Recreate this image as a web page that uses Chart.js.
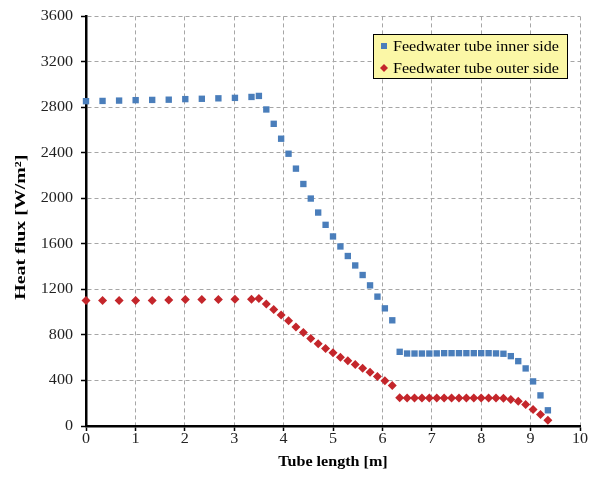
<!DOCTYPE html>
<html>
<head>
<meta charset="utf-8">
<script src="https://cdn.jsdelivr.net/npm/chart.js@4.4.1/dist/chart.umd.min.js"></script>
<style>
  html, body { margin: 0; padding: 0; background: #fff; }
  #wrap { width: 598px; height: 478px; }
</style>
</head>
<body>
<div id="wrap"><canvas id="grafico" width="598" height="478"></canvas></div>
<script>
// tube length [m]
var tubeLength = [0, 0.335, 0.67, 1.005, 1.34, 1.675, 2.01, 2.345, 2.68, 3.015, 3.35,
  3.5, 3.65, 3.8, 3.95, 4.1, 4.25, 4.4, 4.55, 4.7, 4.85, 5.0, 5.15, 5.3, 5.45, 5.6, 5.75, 5.9, 6.05, 6.2,
  6.35, 6.5, 6.65, 6.8, 6.95, 7.1, 7.25, 7.4, 7.55, 7.7, 7.85, 8.0, 8.15, 8.3,
  8.45, 8.6, 8.75, 8.9, 9.05, 9.2, 9.35]

// heat flux [W/m2]
var innerSide = [2855, 2857, 2860, 2864, 2866, 2868, 2873, 2876, 2880, 2884, 2892,
  2901, 2782, 2656, 2525, 2393, 2262, 2127, 1999, 1876, 1768, 1666, 1578, 1494, 1411, 1327, 1236, 1137, 1034, 929,
  652, 637, 637, 637, 637, 638, 640, 640, 640, 640, 640, 640, 640, 638,
  635, 614, 570, 506, 392, 269, 138]

var outerSide = [1102, 1102, 1102, 1104, 1104, 1108, 1111, 1111, 1111, 1113, 1115,
  1120, 1073, 1023, 976, 924, 871, 821, 769, 722, 681, 643, 605, 573, 541, 508, 473, 436, 398, 357,
  249, 245, 245, 245, 245, 245, 245, 245, 245, 245, 245, 245, 245, 245,
  243, 234, 217, 190, 146, 100, 50]

var seriesNames = ['Feedwater tube inner side', 'Feedwater tube outer side']
var xTicks = [0, 1, 2, 3, 4, 5, 6, 7, 8, 9, 10]
var yTicks = [0, 400, 800, 1200, 1600, 2000, 2400, 2800, 3200, 3600]

var fonte = 'Liberation Serif'

function pontos(valores) {
  return tubeLength.map(function(x, i) { return { x: x, y: valores[i] } })
}

// the original picture has its text drawn wider along the writing direction
var esticarTexto = {
  id: 'esticarTexto',
  beforeDraw: function(chart) {
    var c = chart.ctx
    if (c._esticado) return
    var original = c.fillText
    c.fillText = function(text, x, y) {
      var m = this.getTransform()
      this.save()
      if (Math.abs(m.b) > 0.5) {
        // rotated axis title
        this.translate(x - 6, y)
        this.scale(1.42, 1)
      } else {
        this.translate(x, y)
        this.scale(1.15, 1)
      }
      original.call(this, text, 0, 0)
      this.restore()
    }
    c._esticado = true
  }
}

// legend drawn as a yellow box inside the plot
var legendaBox = {
  id: 'legendaBox',
  afterDraw: function(chart) {
    var ctx = chart.ctx
    var area = chart.chartArea
    var w = 194, h = 44
    var x = Math.round(area.right) - 207
    var y = Math.round(area.top) + 18
    ctx.save()
    ctx.fillStyle = '#fbf7a6'
    ctx.fillRect(x, y, w, h)
    ctx.strokeStyle = '#000'
    ctx.lineWidth = 1
    ctx.strokeRect(x + 0.5, y + 0.5, w, h)
    ctx.font = '14px "' + fonte + '"'
    ctx.textBaseline = 'middle'
    ctx.textAlign = 'left'
    chart.data.datasets.forEach(function(ds, i) {
      var cy = y + 12 + i * 22
      var mx = x + 11
      ctx.fillStyle = ds.backgroundColor
      if (ds.pointStyle === 'rect') {
        ctx.fillRect(mx - 3, cy - 3, 6, 6)
      } else {
        ctx.beginPath()
        ctx.moveTo(mx, cy - 4)
        ctx.lineTo(mx + 4, cy)
        ctx.lineTo(mx, cy + 4)
        ctx.lineTo(mx - 4, cy)
        ctx.closePath()
        ctx.fill()
      }
      ctx.fillStyle = '#000'
      ctx.fillText(ds.label, x + 20, cy + 1)
    })
    ctx.restore()
  }
}

var ctx = document.getElementById('grafico').getContext('2d')

var myChart = new Chart(ctx, {
  type: 'scatter',
  data: {
    datasets: [
      {
        label: seriesNames[0],
        data: pontos(innerSide),
        pointStyle: 'rect',
        pointRadius: 4.5,
        pointHoverRadius: 4.5,
        borderWidth: 0,
        clip: false,
        backgroundColor: '#4a7ebb',
        borderColor: '#4a7ebb'
      },
      {
        label: seriesNames[1],
        data: pontos(outerSide),
        pointStyle: 'rectRot',
        pointRadius: 4.5,
        pointHoverRadius: 4.5,
        borderWidth: 0,
        clip: false,
        backgroundColor: '#c4262b',
        borderColor: '#c4262b'
      }
    ]
  },
  options: {
    responsive: false,
    animation: false,
    events: [],
    layout: { padding: { top: 15, right: 18, left: 0, bottom: 0 } },
    plugins: {
      legend: { display: false },
      tooltip: { enabled: false }
    },
    scales: {
      x: {
        type: 'linear',
        min: 0,
        max: 10,
        afterBuildTicks: function(axis) {
          axis.ticks = xTicks.map(function(v) { return { value: v } })
        },
        afterFit: function(axis) { axis.height = 52 },
        grid: {
          color: '#a6a6a6',
          lineWidth: 1,
          tickLength: 5,
          tickColor: '#000',
          tickWidth: 1.5
        },
        border: { color: '#000', width: 2.5, dash: [4, 3] },
        ticks: {
          color: '#222',
          padding: 0,
          maxRotation: 0,
          font: { family: fonte, size: 14 },
          callback: function(v) { return String(v) }
        },
        title: {
          display: true,
          text: 'Tube length [m]',
          color: '#000',
          padding: { top: 0, bottom: 7 },
          font: { family: fonte, size: 14, weight: 'bold' }
        }
      },
      y: {
        type: 'linear',
        min: 0,
        max: 3600,
        afterBuildTicks: function(axis) {
          axis.ticks = yTicks.map(function(v) { return { value: v } })
        },
        afterFit: function(axis) { axis.width = 86 },
        grid: {
          color: '#a6a6a6',
          lineWidth: 1,
          tickLength: 5,
          tickColor: '#000',
          tickWidth: 1.5
        },
        border: { color: '#000', width: 2.5, dash: [4, 3] },
        ticks: {
          color: '#222',
          padding: 8,
          font: { family: fonte, size: 14 },
          callback: function(v) { return String(v) }
        },
        title: {
          display: true,
          text: 'Heat flux [W/m²]',
          color: '#000',
          padding: { top: 13, bottom: 0 },
          font: { family: fonte, size: 14, weight: 'bold' }
        }
      }
    }
  },
  plugins: [esticarTexto, legendaBox]
})
</script>
</body>
</html>
